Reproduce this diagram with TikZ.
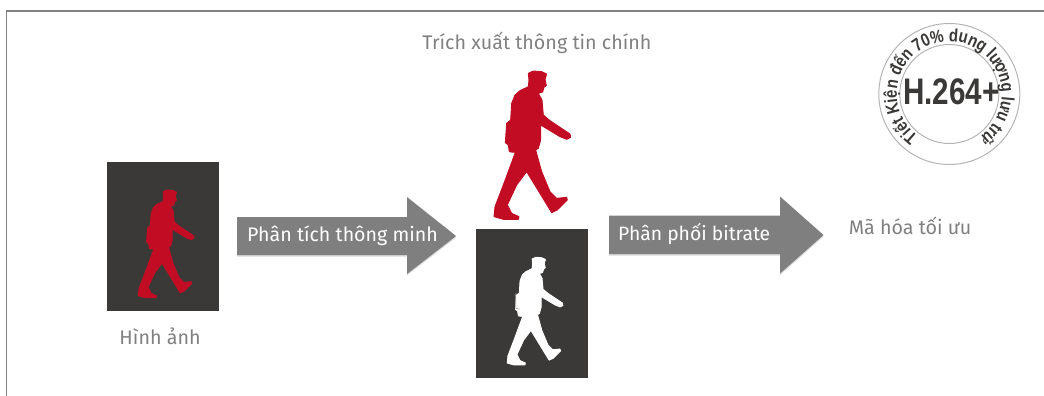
\documentclass[tikz,border=0pt]{standalone}
\usepackage{fontspec}
\setmainfont{Fira Sans}
\newfontfamily\stampfont{Liberation Sans}
\definecolor{panel}{HTML}{3A3937}
\definecolor{walkred}{HTML}{C20C24}
\definecolor{arrowgray}{HTML}{7F7F7F}
\definecolor{shadowgray}{HTML}{D8D8D8}
\definecolor{labelgray}{HTML}{808080}
\definecolor{framegray}{HTML}{808080}
\definecolor{ringgray}{HTML}{B4B4B4}
\newcommand{\stampletterfont}{\stampfont\bfseries\fontsize{18}{18}\selectfont}
\newdimen\stampcur
\tikzset{
  panelbox/.style={fill=panel,draw=none,inner sep=0pt,minimum width=112pt,minimum height=149pt},
  caption/.style={text=labelgray,font=\fontsize{19.7}{22}\selectfont,inner sep=0pt},
  arrowtext/.style={text=white,font=\fontsize{19.6}{22}\selectfont,inner sep=0pt,anchor=west},
  bigarrow/.style={fill=arrowgray,draw=none},
  arrowshade/.style={fill=shadowgray,draw=none},
  stampletter/.style={inner sep=0pt,text=panel,font=\stampletterfont,anchor=base},
  figure outline/.style={fill=#1,draw=#1,line width=.9pt,line join=round},
}
\newcommand{\walker}{%
(175,40) -- (190,33) -- (215,35) -- (230,42) -- (225,58) -- (229,76) -- (222,82) -- (218,96) -- (205,100) -- (216,120) -- (220,165) -- (240,182) -- (300,222) -- (302,232) -- (290,238) -- (270,230) -- (212,195) -- (212,240) -- (205,265) -- (197,270) -- (215,335) -- (240,395) -- (260,415) -- (290,412) -- (292,420) -- (262,450) -- (245,458) -- (225,425) -- (170,335) -- (140,375) -- (112,435) -- (125,460) -- (147,470) -- (145,478) -- (100,478) -- (72,470) -- (75,440) -- (100,375) -- (135,280) -- (132,270) -- (130,277) -- (118,275) -- (115,255) -- (106,248) -- (110,190) -- (122,180) -- (125,130) -- (135,105) -- (150,92) -- (175,80) -- (177,60) -- cycle}
\newcommand{\arrowone}{(237,217) -- (407,217) -- (407,197) -- (456,236) -- (407,274) -- (407,255) -- (237,255) -- cycle}
\newcommand{\arrowtwo}{(609,215.5) -- (780,215.5) -- (780,196.5) -- (823.5,235) -- (780,273.5) -- (780,254) -- (609,254) -- cycle}
\begin{document}
\begin{tikzpicture}[x=1pt,y=-1pt]
\useasboundingbox (0,0) rectangle (1044,396);
% frame
\coordinate (fa) at (6.5,396);
\coordinate (fb) at (6.5,11);
\coordinate (fc) at (1044,11);
\draw[framegray,line width=1.3pt] (fa) -- (fb) -- (fc);
% panels
\node[panelbox] (left) at (163,236.5) {};
\node[panelbox] (mid) at (532,303) {};
% walkers
\begin{scope}[shift={(470,60)},x=0.3333pt,y=-0.3333pt]
\path[figure outline=walkred] \walker;
\end{scope}
\begin{scope}[shift={(120.9,182)},x=0.242pt,y=-0.242pt]
\path[figure outline=walkred] \walker;
\end{scope}
\begin{scope}[shift={(489.8,249.3)},x=0.242pt,y=-0.242pt]
\path[figure outline=white] \walker;
\draw[gray!70!white,line width=.7pt] (107,182) -- (107,243) -- (122,247);
\end{scope}
% arrows
\begin{scope}[yshift=-1.5pt]
\fill[arrowshade] \arrowone;
\fill[arrowshade] \arrowtwo;
\end{scope}
\fill[bigarrow] \arrowone;
\fill[bigarrow] \arrowtwo;
\node[arrowtext] (t1) at (247,236) {Phân tích thông minh};
\node[arrowtext,font=\fontsize{19.3}{22}\selectfont] (t2) at (618,234) {Phân phối bitrate};
% captions
\node[caption] (c1) at (537,43) {Trích xuất thông tin chính};
\node[caption] (c2) at (160,336) {Hình ảnh};
\node[caption] (c3) at (910,226) {Mã hóa tối ưu};
% stamp
\coordinate (st) at (949.3,94);
\draw[ringgray,line width=1pt] (st) circle[radius=70.5];
\draw[ringgray,line width=1pt] (st) circle[radius=49.5];
\node[inner sep=0pt,text=panel,xscale=.8,font=\stampfont\bfseries\fontsize{37}{37}\selectfont] (h) at (951.5,92) {H.264+};
\begin{scope}[shift={(st)},x=1pt,y=1pt]
\global\stampcur=234pt
\foreach \ch/\w [count=\k] in {T/611,i/278,ế/556,t/333,~/278,K/722,i/278,ệ/556,n/611,~/278,đ/611,ế/556,n/611,~/278,7/556,0/556,\%/889,~/278,d/611,u/611,n/611,g/611,~/278,l/278,ư/640,ợ/640,n/611,g/611,~/278,l/278,ư/640,u/611,~/278,t/333,r/389,ữ/640}{
  \pgfmathsetmacro{\midang}{\stampcur-\w*0.008108}
  \node[stampletter,rotate=\midang-90,xscale=.83] (ch\k) at (\midang:52.5) {\ch};
  \pgfmathsetmacro{\nextang}{\stampcur-\w*0.016216}
  \global\stampcur=\nextang pt
}
\end{scope}
\end{tikzpicture}
\end{document}
